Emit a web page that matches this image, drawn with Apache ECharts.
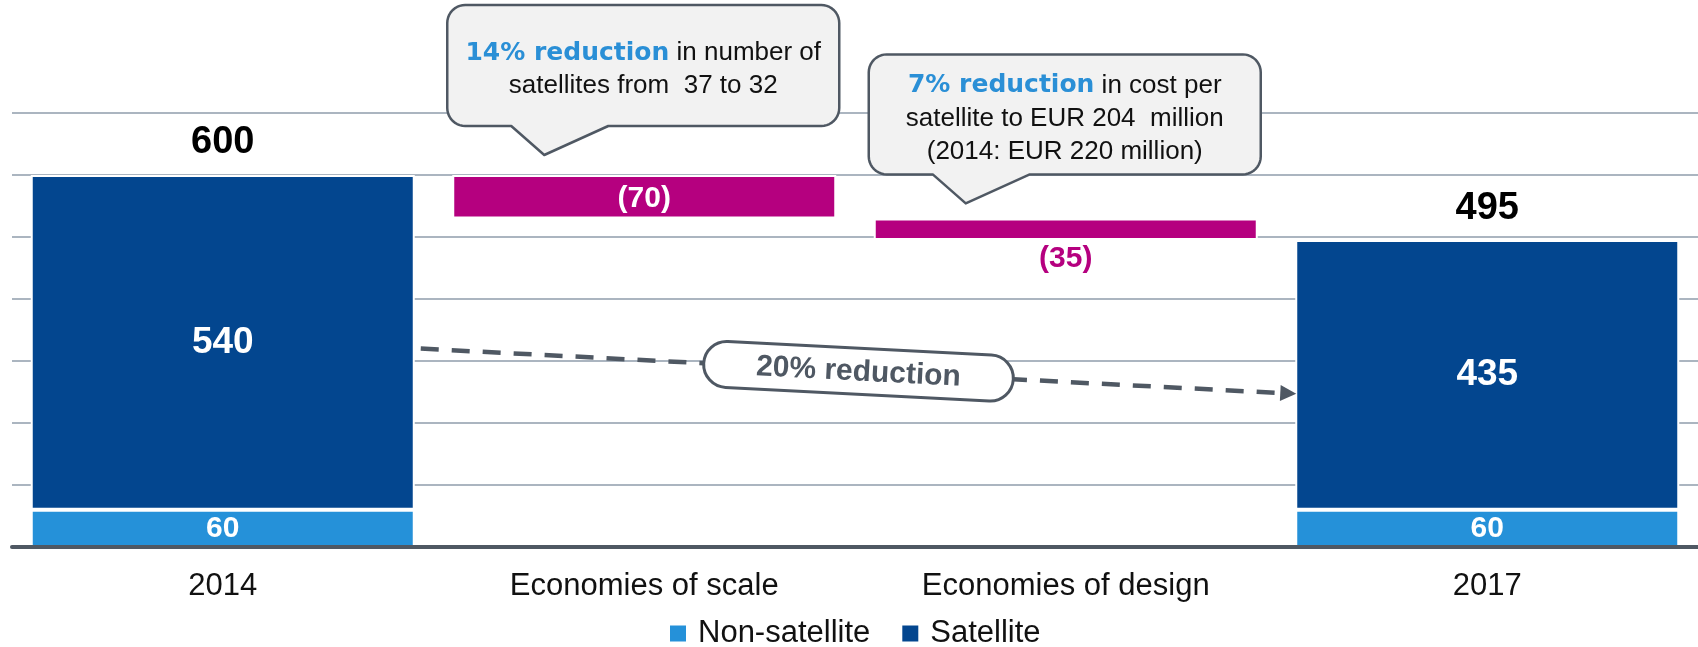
<!DOCTYPE html>
<html lang="en" style="height: 100%">
<head>
  <meta charset="utf-8">
  <title>satellite cost bridge</title>
</head>
<body style="height: 100%; margin: 0; background: #fff">
  <div id="container" style="width: 1698px;height: 647px"></div>

  <script type="text/javascript" src="https://cdn.jsdelivr.net/npm/echarts@6/dist/echarts.min.js"></script>
  <script type="text/javascript">
    var dom = document.getElementById('container');
    var myChart = echarts.init(dom, null, { renderer: 'canvas' });

    // data
    const categories = ['2014', 'Economies of scale', 'Economies of design', '2017'];
    const nonSatellite = [60, '-', '-', 60];
    const satellite = [540, '-', '-', 435];
    const stepBase = ['-', 530, 495, '-'];
    const stepDrop = ['-', 70, 35, '-'];
    const totals = [600, '-', '-', 495];

    const FONT = 'Liberation Sans, Arial, sans-serif';
    const GREY = '#4f5863';
    const MAGENTA = '#b5007f';
    const BW = 384;

    var option = {
      animation: false,
      grid: { left: 12, right: 0, top: 113, bottom: 100, containLabel: false, outerBoundsMode: 'none' },
      legend: {
        data: ['Non-satellite', 'Satellite'],
        left: 663,
        top: 613,
        icon: 'rect',
        itemWidth: 18,
        itemHeight: 18,
        itemGap: 30,
        textStyle: { fontFamily: FONT, fontSize: 31, color: '#111', padding: [0, 0, 0, 6] }
      },
      xAxis: {
        type: 'category',
        data: categories,
        z: 10,
        axisLine: { lineStyle: { color: GREY, width: 4 } },
        axisTick: { show: false },
        axisLabel: { fontFamily: FONT, fontSize: 31, color: '#111', margin: 24 },
        splitLine: { show: false }
      },
      yAxis: {
        type: 'value',
        min: 0,
        max: 700,
        interval: 100,
        axisLine: { show: false },
        axisTick: { show: false },
        axisLabel: { show: false },
        splitLine: { lineStyle: { color: '#abb5c0', width: 2 } }
      },
      series: [
        {
          name: 'Non-satellite',
          type: 'bar',
          stack: 'cost',
          barWidth: BW,
          barGap: '-100%',
          data: nonSatellite,
          itemStyle: { color: '#2591d9', borderColor: '#fff', borderWidth: 2 },
          label: { show: true, position: 'inside', color: '#fff', fontFamily: FONT, fontWeight: 'bold', fontSize: 30 }
        },
        {
          name: 'Satellite',
          type: 'bar',
          stack: 'cost',
          barWidth: BW,
          barGap: '-100%',
          data: satellite,
          itemStyle: { color: '#03468f', borderColor: '#fff', borderWidth: 2 },
          label: { show: true, position: 'inside', color: '#fff', fontFamily: FONT, fontWeight: 'bold', fontSize: 37 }
        },
        {
          name: 'base',
          type: 'bar',
          stack: 'cost',
          barWidth: BW,
          barGap: '-100%',
          silent: true,
          data: stepBase,
          itemStyle: { color: 'rgba(0,0,0,0)', borderWidth: 0 }
        },
        {
          name: 'Change',
          type: 'bar',
          stack: 'cost',
          barWidth: BW,
          barGap: '-100%',
          data: stepDrop.map(function (v, i) {
            if (v === '-') return v;
            var lbl = i === 1
              ? { position: 'inside', color: '#fff', offset: [0, 2] }
              : { position: 'bottom', color: MAGENTA, distance: 4 };
            return { value: v, label: lbl };
          }),
          itemStyle: { color: MAGENTA, borderColor: '#fff', borderWidth: 2 },
          label: {
            show: true, fontFamily: FONT, fontWeight: 'bold', fontSize: 30,
            formatter: function (p) { return '(' + p.value + ')'; }
          }
        },
        {
          name: 'Total',
          type: 'bar',
          barWidth: BW,
          barGap: '-100%',
          silent: true,
          data: totals,
          itemStyle: { color: 'rgba(0,0,0,0)' },
          label: { show: true, position: 'top', distance: 13, color: '#000', fontFamily: FONT, fontWeight: 'bold', fontSize: 38 }
        }
      ]
    };

    myChart.setOption(option);

    // annotations placed from the chart's own scales
    function px(ci, v) { return myChart.convertToPixel({ gridIndex: 0 }, [ci, v]); }

    function arcPts(cx, cy, r, a0, a1) {
      var out = [];
      for (var k = 0; k <= 10; k++) {
        var a = a0 + (a1 - a0) * k / 10;
        out.push([cx + r * Math.cos(a), cy + r * Math.sin(a)]);
      }
      return out;
    }

    // rounded box with a pointer on its bottom edge
    function calloutPts(x1, y1, x2, y2, r, pl, pt, pr, ty) {
      var P = Math.PI;
      var pts = [];
      pts = pts.concat(arcPts(x1 + r, y1 + r, r, P, 1.5 * P));
      pts = pts.concat(arcPts(x2 - r, y1 + r, r, 1.5 * P, 2 * P));
      pts = pts.concat(arcPts(x2 - r, y2 - r, r, 0, 0.5 * P));
      pts.push([pr, y2], [pt, ty], [pl, y2]);
      pts = pts.concat(arcPts(x1 + r, y2 - r, r, 0.5 * P, P));
      return pts;
    }

    function callout(ci, anchorVal, gapAbove, h, text) {
      var p = px(ci, anchorVal);
      var cx = p[0] - 1;
      var y2 = p[1] - gapAbove;
      var y1 = y2 - h;
      var x1 = cx - 196, x2 = cx + 196;
      return [
        {
          type: 'polygon',
          shape: { points: calloutPts(x1, y1, x2, y2, 18, cx - 132, cx - 99, cx - 35, y2 + 29) },
          style: { fill: '#f2f2f2', stroke: GREY, lineWidth: 2.5, lineJoin: 'round' },
          z: 20
        },
        {
          type: 'text',
          x: cx,
          y: (y1 + y2) / 2 + 4,
          z: 21,
          style: {
            text: text,
            align: 'center',
            verticalAlign: 'middle',
            fontFamily: FONT,
            fontSize: 26,
            lineHeight: 33,
            fill: '#111',
            rich: {
              b: { fontFamily: 'DejaVu Sans, sans-serif', fontWeight: 'bold', fontSize: 25, lineHeight: 33, fill: '#2a8fd6' }
            }
          }
        }
      ];
    }

    var graphics = [];
    graphics = graphics.concat(callout(1, 600, 49, 121,
      '{b|14% reduction} in number of\nsatellites from  37 to 32'));
    graphics = graphics.concat(callout(2, 530, 44, 120,
      '{b|7% reduction} in cost per\nsatellite to EUR 204  million\n(2014: EUR 220 million)'));

    // dashed arrow from 2014 bar to 2017 bar
    var half = BW / 2;
    var s = px(0, 320), e = px(3, 247);
    var sx = s[0] + half + 6, sy = s[1];
    var tx = e[0] - half + 1, ty = e[1];
    var len = Math.hypot(tx - sx, ty - sy);
    var ux = (tx - sx) / len, uy = (ty - sy) / len;
    var bx = tx - 16 * ux, by = ty - 16 * uy;
    graphics.push({
      type: 'line',
      shape: { x1: sx, y1: sy, x2: bx, y2: by },
      style: { stroke: GREY, lineWidth: 4.5, lineDash: [18, 13] },
      z: 20
    });
    graphics.push({
      type: 'polygon',
      shape: { points: [[tx, ty], [bx - 8 * uy, by + 8 * ux], [bx + 8 * uy, by - 8 * ux]] },
      style: { fill: GREY },
      z: 20
    });
    var mx = (sx + tx) / 2, my = (sy + ty) / 2;
    var ang = -Math.atan2(ty - sy, tx - sx);
    graphics.push({
      type: 'group',
      x: mx,
      y: my,
      rotation: ang,
      z: 22,
      children: [
        {
          type: 'rect',
          shape: { x: -155, y: -23, width: 310, height: 46, r: 23 },
          style: { fill: '#fff', stroke: GREY, lineWidth: 3 },
          z: 22
        },
        {
          type: 'text',
          x: 0,
          y: 1,
          z: 23,
          style: {
            text: '20% reduction',
            align: 'center',
            verticalAlign: 'middle',
            fontFamily: FONT,
            fontWeight: 'bold',
            fontSize: 30,
            fill: GREY
          }
        }
      ]
    });

    myChart.setOption({ graphic: graphics });

    window.addEventListener('resize', myChart.resize);
  </script>
</body>
</html>
